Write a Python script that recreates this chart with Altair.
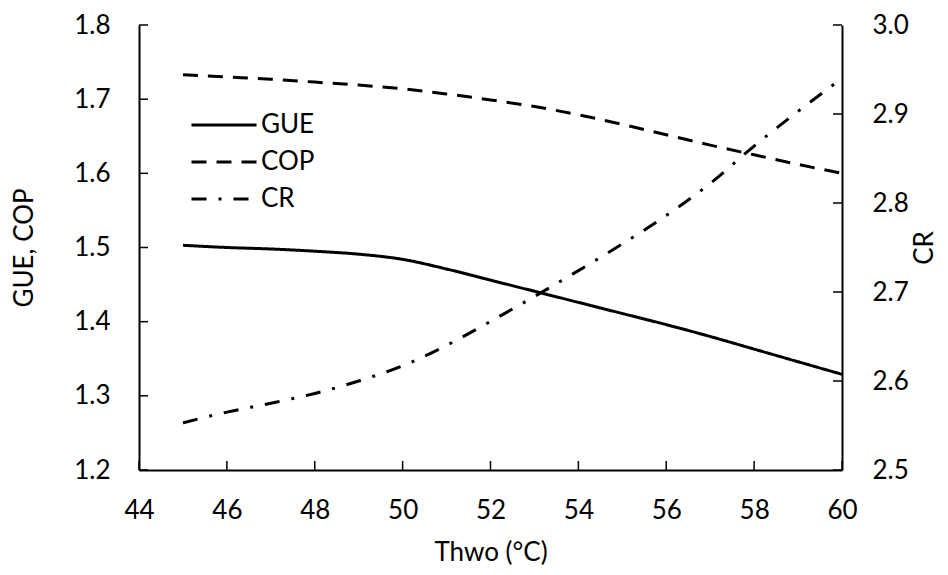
import altair as alt
import pandas as pd

# ---- data ----
thwo = [45, 46, 47, 48, 49, 50, 51, 52, 53, 54, 55, 56, 57, 58, 59, 60]
gue = [1.503, 1.500, 1.498, 1.495, 1.491, 1.484, 1.471, 1.456, 1.441, 1.426, 1.411, 1.396, 1.380, 1.363, 1.346, 1.329]
cop = [1.733, 1.730, 1.727, 1.723, 1.719, 1.714, 1.707, 1.699, 1.690, 1.679, 1.666, 1.652, 1.638, 1.625, 1.612, 1.600]
cr = [2.553, 2.565, 2.575, 2.586, 2.600, 2.617, 2.640, 2.667, 2.695, 2.724, 2.754, 2.786, 2.822, 2.864, 2.903, 2.940]
series_names = ["GUE", "COP", "CR"]
x_ticks = [44, 46, 48, 50, 52, 54, 56, 58, 60]
left_ticks = [1.2, 1.3, 1.4, 1.5, 1.6, 1.7, 1.8]
right_ticks = [2.5, 2.6, 2.7, 2.8, 2.9, 3.0]

W, H = 703, 445
FONT = "Lato"
FS = 26

left_df = pd.DataFrame({
    "Thwo": thwo + thwo,
    "value": gue + cop,
    "series": ["GUE"] * len(thwo) + ["COP"] * len(thwo),
})
cr_df = pd.DataFrame({"Thwo": thwo, "value": cr, "series": ["CR"] * len(thwo)})
xt_df = pd.DataFrame({"Thwo": x_ticks})
lt_df = pd.DataFrame({"value": left_ticks})
rt_df = pd.DataFrame({"value": right_ticks})

xs = alt.Scale(domain=[44, 60], nice=False, zero=False)
ys_left = alt.Scale(domain=[1.2, 1.8], nice=False, zero=False)
ys_right = alt.Scale(domain=[2.5, 3.0], nice=False, zero=False)
dash_scale = alt.Scale(domain=series_names, range=[[1, 0], [15, 10], [15, 12, 3, 12]])

x_axis = alt.Axis(values=x_ticks, format="d", title="Thwo (°C)", labelPadding=27,
                  titlePadding=16, labelFlush=False)
left_axis = alt.Axis(values=left_ticks, format=".1f", title="GUE, COP", labelPadding=29,
                     titlePadding=36, labelFlush=False)
right_axis = alt.Axis(orient="right", values=right_ticks, format=".1f", title="CR",
                      labelPadding=30, titlePadding=3, titleAngle=270, titleBaseline="top",
                      labelFlush=False)

legend = alt.Legend(
    title=None, orient="none", legendX=51, legendY=85,
    symbolType="stroke", symbolSize=4225, symbolStrokeWidth=3,
    symbolStrokeColor="black", labelFontSize=FS, labelFont=FONT,
    labelColor="black", labelOffset=3, clipHeight=30, rowPadding=7, padding=0,
)

X = alt.X("Thwo:Q", scale=xs, axis=x_axis, title="Thwo (°C)")
YL = alt.Y("value:Q", scale=ys_left, axis=left_axis, title="GUE, COP")
YR = alt.Y("value:Q", scale=ys_right, axis=right_axis, title="CR")

left_lines = alt.Chart(left_df).mark_line(color="black", strokeWidth=3, interpolate="monotone").encode(
    x=X, y=YL,
    strokeDash=alt.StrokeDash("series:N", scale=dash_scale, legend=legend),
)

x_tick_rules = alt.Chart(xt_df).mark_rule(color="black", strokeWidth=1.5).encode(
    x=X, y=alt.value(H), y2=alt.value(H - 9),
)
left_tick_rules = alt.Chart(lt_df).mark_rule(color="black", strokeWidth=1.5).encode(
    y=YL, x=alt.value(0), x2=alt.value(9),
)

cr_line = alt.Chart(cr_df).mark_line(color="black", strokeWidth=3, interpolate="monotone").encode(
    x=X, y=YR,
    strokeDash=alt.StrokeDash("series:N", scale=dash_scale, legend=legend),
)
right_tick_rules = alt.Chart(rt_df).mark_rule(color="black", strokeWidth=1.5).encode(
    y=YR, x=alt.value(W), x2=alt.value(W - 9),
)

left_group = alt.layer(left_lines, x_tick_rules, left_tick_rules)
right_group = alt.layer(cr_line, right_tick_rules)

chart = alt.layer(left_group, right_group).resolve_scale(
    y="independent", strokeDash="shared"
).properties(
    width=W, height=H,
    padding={"left": 131, "top": 17, "right": 98, "bottom": 96},
    autosize=alt.AutoSizeParams(type="none"),
).configure(
    font=FONT, background="white"
).configure_view(
    stroke=None
).configure_axis(
    labelFont=FONT, titleFont=FONT, labelFontSize=FS, titleFontSize=FS,
    titleFontWeight="normal", labelColor="black", titleColor="black",
    domainColor="black", domainWidth=2, ticks=False, grid=False,
)

chart.save("out.html", embed_options={"renderer": "svg", "actions": False})
